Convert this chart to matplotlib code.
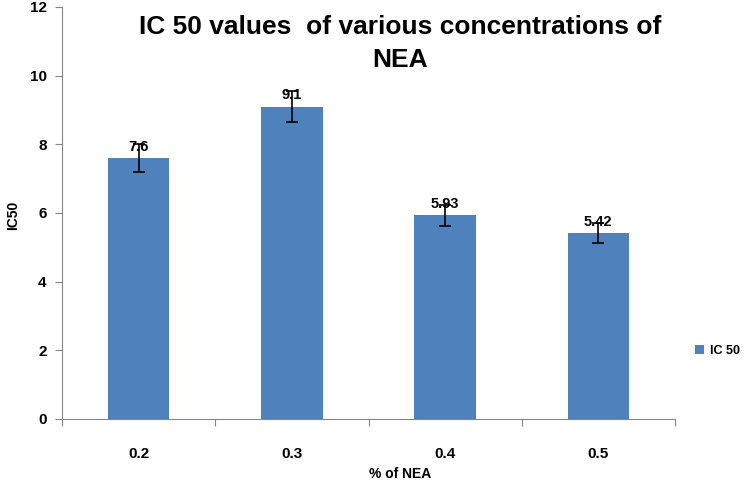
import matplotlib
matplotlib.use("Agg")
import matplotlib.pyplot as plt

categories = ["0.2", "0.3", "0.4", "0.5"]
values = [7.6, 9.1, 5.93, 5.42]
errors = [0.4, 0.45, 0.3, 0.28]
labels = ["7.6", "9.1", "5.93", "5.42"]
yticks = [0, 2, 4, 6, 8, 10, 12]

plt.rcParams['font.family'] = ["Liberation Sans", "DejaVu Sans"]

fig = plt.figure(figsize=(7.49, 4.88), dpi=100)
ax = fig.add_axes([62/749, 1-419/488, (675-62)/749, (419-7)/488])
x = list(range(len(categories)))
color = "#4F81BD"
ax.bar(x, values, width=0.4, color=color, label="IC 50", zorder=2)
ax.errorbar(x, values, yerr=errors, fmt="none", ecolor="black", elinewidth=1.2,
            capsize=4, capthick=1.2, zorder=3)
for xi, v, t in zip(x, values, labels):
    ax.text(xi, v + 0.12, t, ha="center", va="bottom", fontsize=10.5, fontweight="bold", zorder=4)

ax.set_xlim(-0.5, len(categories) - 0.5)
ax.set_ylim(0, 12)
ax.set_yticks(yticks)
ax.set_yticklabels([str(t) for t in yticks], fontsize=11, fontweight="bold")
ax.set_xticks([i - 0.5 for i in range(len(categories) + 1)], minor=False)
ax.set_xticklabels([""] * (len(categories) + 1))
ax.set_xticks(x, minor=True)
ax.set_xticklabels(categories, minor=True, fontsize=11, fontweight="bold")
ax.tick_params(axis="x", which="minor", length=0, pad=20)
ax.tick_params(axis="x", which="major", length=5, color="#868686")
ax.tick_params(axis="y", length=5, color="#868686", pad=6)
for s in ["top", "right"]:
    ax.spines[s].set_visible(False)
ax.spines["left"].set_color("#868686")
ax.spines["bottom"].set_color("#868686")

fig.text(400/749, 1-474/488, "% of NEA", ha="center", va="center", fontsize=10, fontweight="bold")
fig.text(13/749, 1-215/488, "IC50", ha="center", va="center", rotation=90, fontsize=10, fontweight="bold")

fig.text(400/749, 1-27/488, "IC 50 values  of various concentrations of", ha="center", va="center",
         fontsize=19, fontweight="bold")
fig.text(400/749, 1-60/488, "NEA", ha="center", va="center", fontsize=19, fontweight="bold")

ax.legend(loc="center left", bbox_to_anchor=(1.015, 0.165), frameon=False,
          handlelength=0.7, handleheight=0.7, handletextpad=0.5,
          prop={"weight": "bold", "size": 9})

fig.savefig("out.png", dpi=100)
